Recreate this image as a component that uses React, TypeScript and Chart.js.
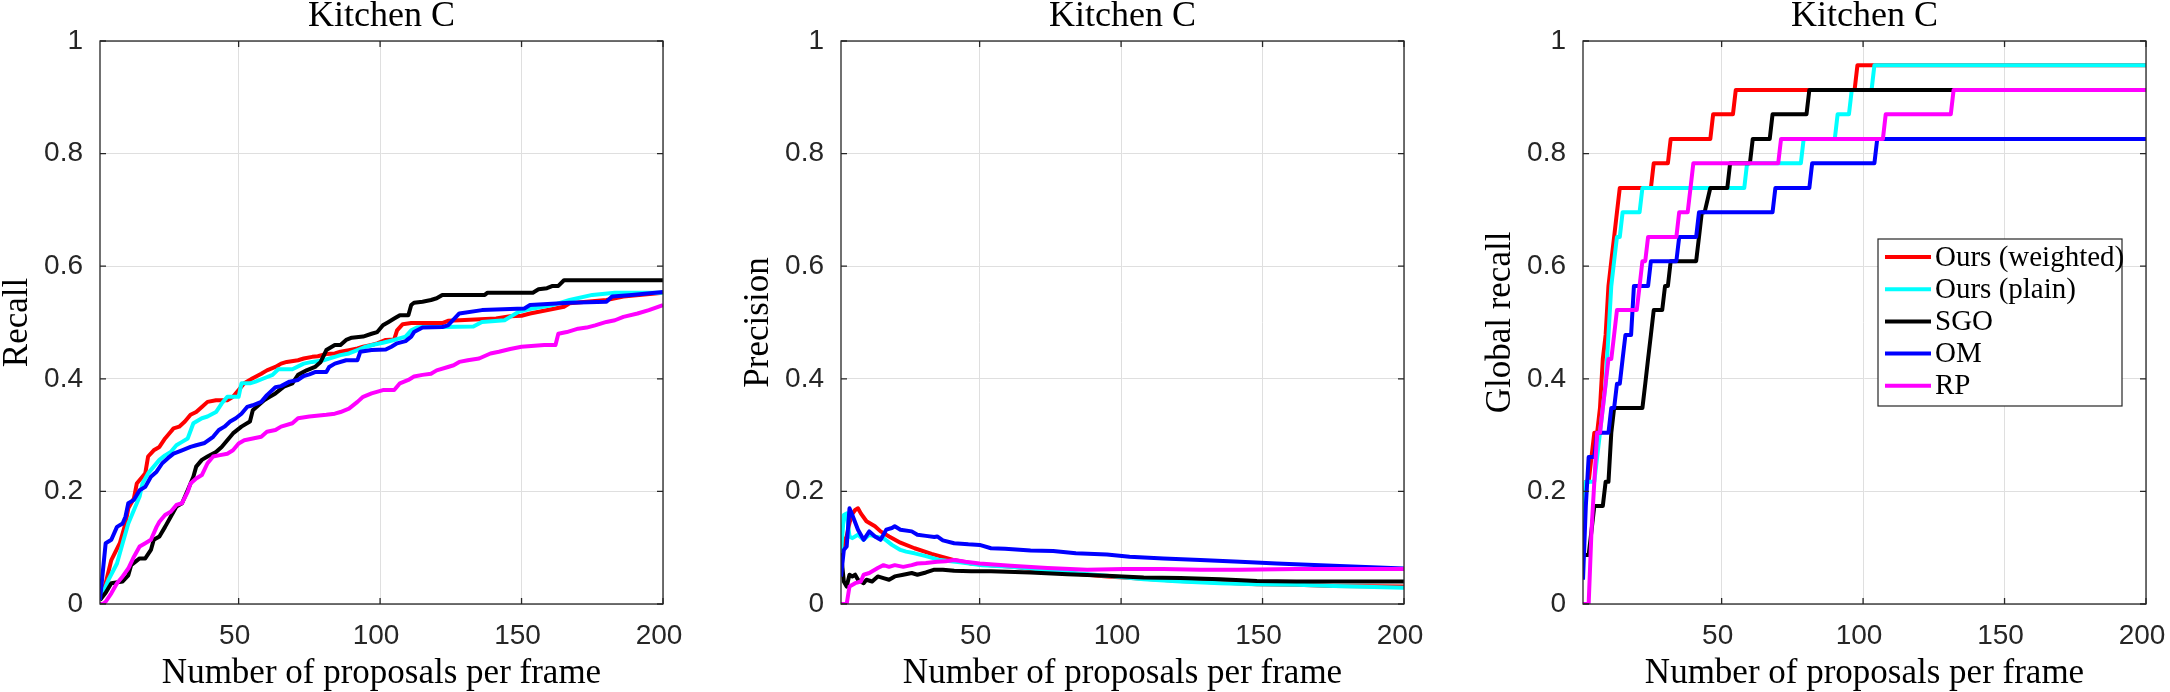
import React, { useEffect, useRef } from 'react';
import { Chart, registerables } from 'chart.js';

Chart.register(...registerables);

type Pt = [number, number];

// ---------- texts & ticks ----------
const panelTitles = ['Kitchen C', 'Kitchen C', 'Kitchen C'];
const yTitles = ['Recall', 'Precision', 'Global recall'];
const xTitle = 'Number of proposals per frame';
const xTicks = [50, 100, 150, 200];
const xTickLabels = ['50', '100', '150', '200'];
const yTicks = [0, 0.2, 0.4, 0.6, 0.8, 1];
const yTickLabels = ['0', '0.2', '0.4', '0.6', '0.8', '1'];
const seriesNames = ['Ours (weighted)', 'Ours (plain)', 'SGO', 'OM', 'RP'];
const seriesColors = ['#ff0000', '#00ffff', '#000000', '#0000ff', '#ff00ff'];

// ---------- panel 1: Recall ----------
const recallWeighted: Pt[] = [
  [1, 0.007], [3, 0.037], [5, 0.078], [8, 0.108], [10, 0.143], [11, 0.17], [13, 0.188], [14, 0.214],
  [16, 0.226], [17, 0.232], [18, 0.262], [20, 0.273], [22, 0.279], [24, 0.294], [26, 0.306], [27, 0.312],
  [29, 0.315], [31, 0.324], [33, 0.336], [35, 0.341], [37, 0.35], [39, 0.359], [42, 0.362], [46, 0.362],
  [48, 0.368], [50, 0.38], [52, 0.392], [55, 0.401], [58, 0.409], [60, 0.415], [63, 0.421], [65, 0.427],
  [67, 0.43], [71, 0.433], [73, 0.436], [76, 0.439], [78, 0.44], [81, 0.444], [84, 0.445], [86, 0.448],
  [89, 0.451], [92, 0.454], [94, 0.457], [97, 0.46], [99, 0.463], [102, 0.469], [105, 0.47], [106, 0.486],
  [108, 0.497], [111, 0.499], [122, 0.499], [124, 0.503], [128, 0.504], [141, 0.507], [146, 0.511],
  [150, 0.512], [153, 0.516], [165, 0.528], [167, 0.534], [180, 0.54], [186, 0.546], [200, 0.553],
];
const recallPlain: Pt[] = [
  [1, 0.007], [4, 0.043], [7, 0.072], [9, 0.108], [11, 0.143], [13, 0.167], [15, 0.191], [16, 0.214],
  [18, 0.232], [20, 0.244], [22, 0.256], [24, 0.264], [26, 0.27], [28, 0.282], [30, 0.288], [32, 0.294],
  [34, 0.321], [37, 0.33], [39, 0.333], [42, 0.341], [44, 0.356], [46, 0.368], [50, 0.368], [51, 0.392],
  [54, 0.392], [56, 0.395], [59, 0.401], [62, 0.407], [64, 0.417], [69, 0.417], [73, 0.427], [76, 0.43],
  [80, 0.433], [84, 0.439], [86, 0.442], [89, 0.445], [92, 0.451], [95, 0.457], [98, 0.461], [101, 0.464],
  [105, 0.469], [109, 0.475], [111, 0.486], [113, 0.491], [115, 0.492], [122, 0.492], [133, 0.493],
  [136, 0.501], [144, 0.504], [146, 0.51], [149, 0.519], [154, 0.525], [161, 0.531], [167, 0.54],
  [175, 0.549], [183, 0.553], [200, 0.553],
];
const recallSGO: Pt[] = [
  [1, 0.007], [3, 0.02], [5, 0.037], [9, 0.04], [11, 0.051], [12, 0.069], [15, 0.081], [17, 0.081],
  [19, 0.096], [20, 0.114], [22, 0.12], [24, 0.137], [26, 0.155], [28, 0.173], [30, 0.179], [32, 0.202],
  [34, 0.226], [35, 0.244], [37, 0.256], [39, 0.262], [42, 0.27], [44, 0.279], [46, 0.291], [48, 0.303],
  [51, 0.315], [54, 0.324], [55, 0.344], [57, 0.353], [59, 0.362], [61, 0.368], [63, 0.374], [66, 0.386],
  [69, 0.392], [71, 0.407], [74, 0.415], [77, 0.421], [79, 0.43], [81, 0.451], [84, 0.46], [86, 0.46],
  [88, 0.469], [90, 0.473], [94, 0.475], [97, 0.48], [99, 0.483], [101, 0.495], [103, 0.501], [105, 0.507],
  [107, 0.513], [110, 0.513], [111, 0.531], [112, 0.535], [115, 0.537], [118, 0.54], [120, 0.543],
  [122, 0.549], [137, 0.549], [138, 0.553], [154, 0.553], [156, 0.559], [159, 0.561], [161, 0.565],
  [163, 0.565], [165, 0.575], [200, 0.575],
];
const recallOM: Pt[] = [
  [1, 0.007], [3, 0.108], [5, 0.114], [7, 0.137], [9, 0.143], [10, 0.155], [11, 0.179], [13, 0.185],
  [15, 0.202], [17, 0.208], [19, 0.226], [21, 0.235], [23, 0.25], [25, 0.259], [27, 0.267], [30, 0.273],
  [33, 0.279], [35, 0.282], [38, 0.286], [41, 0.297], [43, 0.309], [45, 0.315], [47, 0.324], [49, 0.33],
  [51, 0.338], [53, 0.35], [55, 0.353], [58, 0.359], [60, 0.371], [63, 0.385], [65, 0.387], [68, 0.395],
  [71, 0.398], [73, 0.405], [75, 0.408], [77, 0.412], [81, 0.412], [82, 0.421], [84, 0.427], [88, 0.433],
  [92, 0.433], [93, 0.448], [97, 0.451], [102, 0.452], [104, 0.457], [106, 0.463], [109, 0.467],
  [111, 0.475], [112, 0.483], [115, 0.491], [122, 0.492], [124, 0.495], [128, 0.516], [136, 0.522],
  [151, 0.525], [153, 0.531], [167, 0.535], [180, 0.537], [182, 0.546], [189, 0.549], [200, 0.554],
];
const recallRP: Pt[] = [
  [1, 0], [2, 0], [3, 0.004], [5, 0.019], [7, 0.037], [9, 0.049], [11, 0.063], [13, 0.084], [15, 0.102],
  [17, 0.108], [19, 0.114], [21, 0.137], [22, 0.146], [24, 0.158], [26, 0.164], [28, 0.176], [30, 0.179],
  [32, 0.199], [33, 0.214], [35, 0.223], [37, 0.229], [39, 0.25], [41, 0.262], [43, 0.264], [46, 0.267],
  [48, 0.273], [50, 0.285], [52, 0.291], [55, 0.294], [58, 0.297], [60, 0.306], [63, 0.309], [65, 0.315],
  [69, 0.321], [71, 0.33], [75, 0.333], [81, 0.336], [84, 0.338], [86, 0.341], [89, 0.347], [92, 0.359],
  [94, 0.368], [97, 0.374], [101, 0.38], [105, 0.38], [107, 0.392], [110, 0.398], [112, 0.404],
  [115, 0.407], [118, 0.409], [120, 0.415], [124, 0.421], [126, 0.424], [128, 0.43], [131, 0.433],
  [135, 0.436], [139, 0.445], [142, 0.448], [146, 0.453], [150, 0.457], [158, 0.46], [162, 0.46],
  [163, 0.48], [166, 0.483], [170, 0.489], [173, 0.491], [176, 0.495], [180, 0.501], [183, 0.504],
  [186, 0.51], [191, 0.516], [195, 0.522], [200, 0.531],
];

// ---------- panel 2: Precision ----------
const precWeighted: Pt[] = [
  [1, 0.09], [2, 0.11], [3, 0.12], [4, 0.144], [5, 0.16], [6, 0.167], [7, 0.17], [8, 0.161], [10, 0.147],
  [13, 0.138], [15, 0.129], [18, 0.12], [22, 0.109], [27, 0.099], [33, 0.089], [41, 0.078], [47, 0.072],
  [54, 0.069], [62, 0.066], [70, 0.061], [81, 0.055], [95, 0.049], [108, 0.045], [121, 0.041],
  [135, 0.038], [148, 0.035], [162, 0.034], [175, 0.032], [200, 0.031],
];
const precPlain: Pt[] = [
  [1, 0.09], [2, 0.158], [3, 0.161], [4, 0.12], [5, 0.117], [7, 0.123], [9, 0.114], [11, 0.123],
  [13, 0.12], [16, 0.117], [19, 0.105], [22, 0.096], [24, 0.093], [27, 0.09], [31, 0.085], [36, 0.078],
  [43, 0.074], [51, 0.069], [61, 0.066], [68, 0.063], [81, 0.056], [95, 0.05], [108, 0.044], [121, 0.04],
  [135, 0.037], [148, 0.035], [162, 0.034], [175, 0.032], [200, 0.029],
];
const precSGO: Pt[] = [
  [1, 0.09], [2, 0.04], [3, 0.031], [4, 0.052], [5, 0.049], [6, 0.052], [7, 0.043], [9, 0.037],
  [10, 0.043], [12, 0.04], [14, 0.049], [16, 0.046], [18, 0.043], [20, 0.049], [23, 0.052], [26, 0.055],
  [28, 0.052], [31, 0.056], [34, 0.061], [37, 0.061], [41, 0.059], [47, 0.058], [54, 0.058], [68, 0.056],
  [81, 0.053], [95, 0.05], [108, 0.047], [121, 0.046], [135, 0.044], [148, 0.041], [162, 0.04], [200, 0.04],
];
const precOM: Pt[] = [
  [1, 0.049], [2, 0.096], [3, 0.102], [4, 0.17], [5, 0.158], [7, 0.132], [9, 0.114], [11, 0.129],
  [13, 0.12], [15, 0.114], [17, 0.132], [19, 0.135], [20, 0.138], [22, 0.132], [26, 0.129], [28, 0.123],
  [31, 0.121], [34, 0.119], [35, 0.12], [37, 0.113], [41, 0.108], [46, 0.106], [50, 0.105], [54, 0.099],
  [59, 0.098], [68, 0.095], [76, 0.094], [84, 0.09], [95, 0.088], [103, 0.084], [115, 0.081],
  [128, 0.078], [142, 0.075], [155, 0.072], [175, 0.068], [200, 0.063],
];
const precRP: Pt[] = [
  [1, 0], [3, 0], [4, 0.031], [6, 0.037], [8, 0.04], [9, 0.052], [11, 0.055], [14, 0.064], [16, 0.069],
  [18, 0.066], [20, 0.069], [23, 0.066], [26, 0.069], [28, 0.072], [31, 0.073], [35, 0.075], [38, 0.076],
  [41, 0.078], [45, 0.075], [50, 0.072], [61, 0.068], [74, 0.064], [88, 0.061], [101, 0.062],
  [115, 0.062], [128, 0.061], [142, 0.061], [162, 0.062], [200, 0.062],
];

// ---------- panel 3: Global recall ----------
const globalWeighted: Pt[] = [
  [1, 0.087], [2, 0.217], [3, 0.217], [4, 0.261], [5, 0.304], [6, 0.304], [7, 0.348], [8, 0.435],
  [9, 0.478], [10, 0.565], [11, 0.609], [12, 0.652], [13, 0.696], [14, 0.739], [25, 0.739], [26, 0.783],
  [31, 0.783], [32, 0.826], [46, 0.826], [47, 0.87], [54, 0.87], [55, 0.913], [97, 0.913], [98, 0.957],
  [200, 0.957],
];
const globalPlain: Pt[] = [
  [1, 0.13], [2, 0.217], [5, 0.217], [6, 0.261], [7, 0.304], [8, 0.348], [9, 0.391], [10, 0.478],
  [11, 0.565], [12, 0.609], [13, 0.652], [14, 0.652], [15, 0.696], [21, 0.696], [22, 0.739], [58, 0.739],
  [59, 0.783], [78, 0.783], [79, 0.826], [90, 0.826], [91, 0.87], [95, 0.87], [96, 0.913], [103, 0.913],
  [104, 0.957], [200, 0.957],
];
const globalSGO: Pt[] = [
  [1, 0.087], [3, 0.087], [4, 0.13], [5, 0.174], [8, 0.174], [9, 0.217], [10, 0.217], [11, 0.304],
  [12, 0.348], [22, 0.348], [23, 0.391], [24, 0.435], [25, 0.478], [26, 0.522], [29, 0.522], [30, 0.565],
  [31, 0.565], [32, 0.609], [41, 0.609], [42, 0.652], [43, 0.696], [44, 0.696], [46, 0.739], [52, 0.739],
  [53, 0.783], [60, 0.783], [61, 0.826], [67, 0.826], [68, 0.87], [80, 0.87], [81, 0.913], [200, 0.913],
];
const globalOM: Pt[] = [
  [1, 0.043], [2, 0.174], [3, 0.261], [5, 0.261], [6, 0.304], [10, 0.304], [11, 0.348], [12, 0.348],
  [13, 0.391], [14, 0.391], [15, 0.435], [16, 0.478], [18, 0.478], [19, 0.565], [24, 0.565], [25, 0.609],
  [34, 0.609], [35, 0.652], [41, 0.652], [42, 0.696], [68, 0.696], [69, 0.739], [81, 0.739], [82, 0.783],
  [104, 0.783], [105, 0.826], [200, 0.826],
];
const globalRP: Pt[] = [
  [1, 0], [3, 0], [4, 0.13], [5, 0.217], [6, 0.304], [7, 0.304], [8, 0.348], [9, 0.391], [10, 0.435],
  [11, 0.435], [12, 0.478], [13, 0.522], [20, 0.522], [21, 0.565], [22, 0.609], [23, 0.609], [24, 0.652],
  [34, 0.652], [35, 0.696], [38, 0.696], [39, 0.739], [40, 0.783], [70, 0.783], [71, 0.826], [107, 0.826],
  [108, 0.87], [131, 0.87], [132, 0.913], [200, 0.913],
];

const panelSeries: Pt[][][] = [
  [recallWeighted, recallPlain, recallSGO, recallOM, recallRP],
  [precWeighted, precPlain, precSGO, precOM, precRP],
  [globalWeighted, globalPlain, globalSGO, globalOM, globalRP],
];

// ---------- layout (pixels) ----------
const PAGE_W = 2170;
const PAGE_H = 692;
const PLOT_LEFTS = [100, 841, 1583];
const PLOT_SIZE = 563;
const Y_AXIS_W = 110;
const RIGHT_PAD = 40;
const CANVAS_W = Y_AXIS_W + PLOT_SIZE + RIGHT_PAD;
const AXIS_COLOR = '#262626';
const GRID_COLOR = '#dfdfdf';
const SERIF = '"Liberation Serif", "Times New Roman", serif';
const SANS = '"Liberation Sans", Arial, Helvetica, sans-serif';

const matlabAxes = {
  id: 'matlabAxes',
  afterDatasetsDraw(chart: any, _args: any, opts: any) {
    const { ctx, chartArea: a, scales } = chart;
    ctx.save();
    ctx.strokeStyle = AXIS_COLOR;
    ctx.lineWidth = 1.3;
    const tl = 6;
    ctx.beginPath();
    for (const v of xTicks) {
      const px = scales.x.getPixelForValue(v);
      ctx.moveTo(px, a.bottom);
      ctx.lineTo(px, a.bottom - tl);
      ctx.moveTo(px, a.top);
      ctx.lineTo(px, a.top + tl);
    }
    for (const v of yTicks) {
      const py = scales.y.getPixelForValue(v);
      ctx.moveTo(a.left, py);
      ctx.lineTo(a.left + tl, py);
      ctx.moveTo(a.right, py);
      ctx.lineTo(a.right - tl, py);
    }
    ctx.stroke();
    ctx.strokeRect(a.left, a.top, a.right - a.left, a.bottom - a.top);

    if (opts && opts.legend) {
      const w = 244;
      const h = 167;
      const x0 = a.right - 24 - w;
      const y0 = a.top + 198;
      ctx.fillStyle = '#ffffff';
      ctx.fillRect(x0, y0, w, h);
      ctx.strokeStyle = AXIS_COLOR;
      ctx.lineWidth = 1.2;
      ctx.strokeRect(x0, y0, w, h);
      const ds = chart.data.datasets;
      ctx.font = `29px ${SERIF}`;
      ctx.textBaseline = 'middle';
      ctx.textAlign = 'left';
      ds.forEach((d: any, i: number) => {
        const cy = y0 + 18 + i * 32.2;
        ctx.strokeStyle = d.borderColor;
        ctx.lineWidth = 4;
        ctx.beginPath();
        ctx.moveTo(x0 + 7, cy);
        ctx.lineTo(x0 + 53, cy);
        ctx.stroke();
        ctx.fillStyle = '#000000';
        ctx.fillText(d.label, x0 + 57, cy + 1);
      });
    }
    ctx.restore();
  },
};

function Panel({ index }: { index: number }) {
  const ref = useRef<HTMLCanvasElement | null>(null);
  useEffect(() => {
    const canvas = ref.current;
    if (!canvas) return;
    const series = panelSeries[index];
    const chart = new Chart(canvas, {
      type: 'line',
      data: {
        datasets: series.map((pts, i) => ({
          label: seriesNames[i],
          data: pts.map(([x, y]) => ({ x, y })),
          borderColor: seriesColors[i],
          backgroundColor: seriesColors[i],
          borderWidth: 4,
          pointRadius: 0,
          pointHoverRadius: 0,
          fill: false,
          tension: 0,
          borderJoinStyle: 'round',
          borderCapStyle: 'butt',
          order: series.length - i,
        })),
      },
      options: {
        responsive: false,
        maintainAspectRatio: false,
        animation: false,
        devicePixelRatio: 1,
        events: [],
        layout: { padding: { left: 0, top: 0, right: RIGHT_PAD, bottom: 0 } },
        plugins: {
          legend: { display: false },
          tooltip: { enabled: false },
          title: {
            display: true,
            text: panelTitles[index],
            fullSize: false,
            color: '#000000',
            font: { family: SERIF, size: 36, weight: 'normal', lineHeight: 25 / 36 },
            padding: { top: 4, bottom: 12 },
          },
          matlabAxes: { legend: index === 2 },
        } as any,
        scales: {
          x: {
            type: 'linear',
            min: 1,
            max: 200,
            afterBuildTicks: (s: any) => {
              s.ticks = xTicks.map((v) => ({ value: v }));
            },
            afterFit: (s: any) => {
              s.height = PAGE_H - 604;
            },
            grid: { color: GRID_COLOR, lineWidth: 1, drawTicks: false },
            border: { display: false },
            ticks: {
              autoSkip: false,
              maxRotation: 0,
              minRotation: 0,
              padding: 15,
              labelOffset: -4,
              color: AXIS_COLOR,
              font: { family: SANS, size: 28 },
              callback: (_v: any, i: number) => xTickLabels[i],
            },
            title: {
              display: true,
              text: xTitle,
              color: '#000000',
              font: { family: SERIF, size: 35, weight: 'normal', lineHeight: 1 },
              padding: { top: 0, bottom: 1 },
            },
          },
          y: {
            type: 'linear',
            min: 0,
            max: 1,
            afterBuildTicks: (s: any) => {
              s.ticks = yTicks.map((v) => ({ value: v }));
            },
            afterFit: (s: any) => {
              s.width = Y_AXIS_W;
            },
            grid: { color: GRID_COLOR, lineWidth: 1, drawTicks: false },
            border: { display: false },
            ticks: {
              autoSkip: false,
              padding: 17,
              color: AXIS_COLOR,
              font: { family: SANS, size: 28 },
              callback: (_v: any, i: number) => yTickLabels[i],
            },
            title: {
              display: true,
              text: yTitles[index],
              color: '#000000',
              font: { family: SERIF, size: 35, weight: 'normal', lineHeight: 1.2 },
              padding: { top: 7, bottom: 0 },
            },
          },
        },
      } as any,
      plugins: [matlabAxes as any],
    });
    return () => chart.destroy();
  }, [index]);

  return (
    <canvas
      ref={ref}
      width={CANVAS_W}
      height={PAGE_H}
      style={{
        position: 'absolute',
        left: PLOT_LEFTS[index] - Y_AXIS_W,
        top: 0,
        width: CANVAS_W,
        height: PAGE_H,
      }}
    />
  );
}

export default function App() {
  return (
    <div
      style={{
        position: 'absolute',
        left: 0,
        top: 0,
        width: PAGE_W,
        height: PAGE_H,
        overflow: 'hidden',
        background: '#ffffff',
      }}
    >
      <Panel index={0} />
      <Panel index={1} />
      <Panel index={2} />
    </div>
  );
}
